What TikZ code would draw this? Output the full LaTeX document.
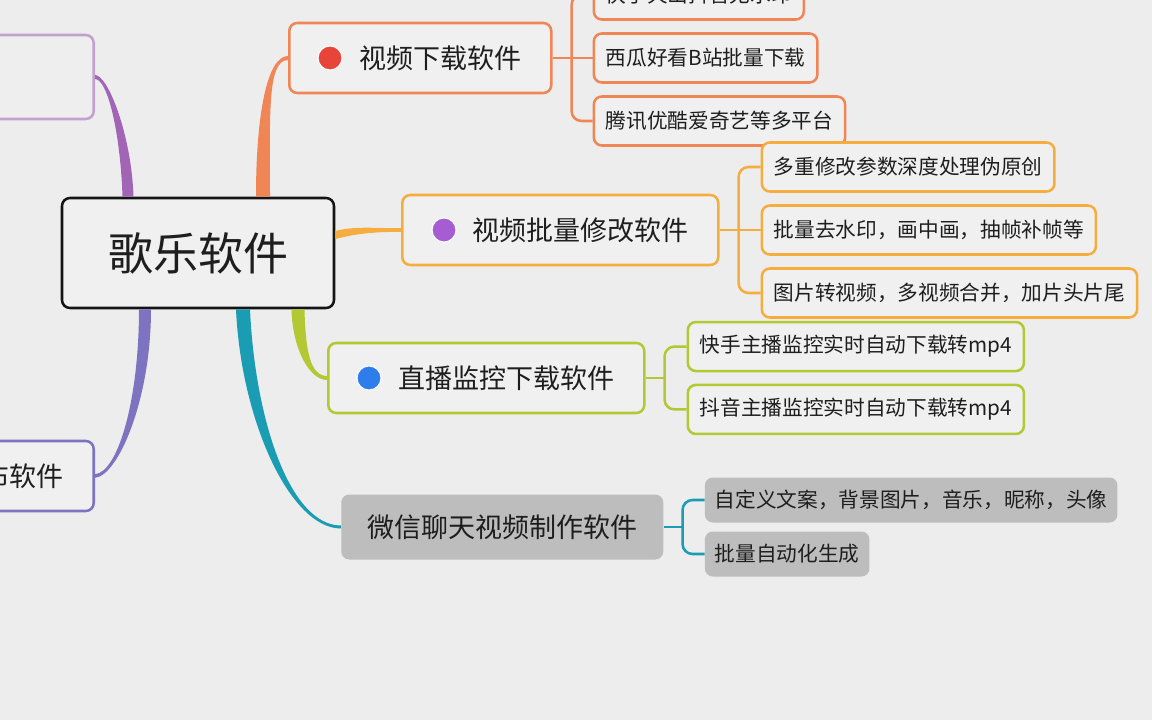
\documentclass[tikz,border=0pt]{standalone}
\usepackage{fontspec}
\newfontfamily\cjk{Noto Sans CJK SC}
\usetikzlibrary{calc,positioning}
\definecolor{bg}{HTML}{EDEDED}
\definecolor{nodebg}{HTML}{F0F0F0}
\definecolor{txt}{HTML}{1E1E1E}
\definecolor{grayfill}{HTML}{BDBDBD}
\definecolor{c1}{HTML}{F08556}
\definecolor{c2}{HTML}{F5AD3E}
\definecolor{c3}{HTML}{B4C833}
\definecolor{c4}{HTML}{1A9DB3}
\definecolor{c5}{HTML}{A264B5}
\definecolor{c6}{HTML}{7E73C0}
\definecolor{dred}{HTML}{E8443A}
\definecolor{dpurple}{HTML}{A65DD2}
\definecolor{dblue}{HTML}{2E7DEA}
\newcommand{\branch}[7]{\fill[#1] ($#2+#6$) .. controls ($#3+#6$) and ($#4+#7$) .. ($#5+#7$) -- ($#5-#7$) .. controls ($#4-#7$) and ($#3-#6$) .. ($#2-#6$) -- cycle;}

\begin{document}
\begin{tikzpicture}[x=0.75pt,y=-0.75pt,
    rootbox/.style={draw=black!92,line width=1.9pt,rounded corners=6pt,fill=nodebg,minimum width=204pt,minimum height=82.5pt,text=txt,font=\cjk\fontsize{33.75}{40}\selectfont},
    topbox/.style={draw=#1,line width=1.9pt,rounded corners=6pt,fill=nodebg,minimum height=52.5pt,inner xsep=22.5pt,text=txt,font=\cjk\fontsize{20.25}{24}\selectfont},
    graybox/.style={fill=grayfill,rounded corners=6pt,minimum height=48.75pt,inner xsep=19.5pt,text=txt,font=\cjk\fontsize{20.25}{24}\selectfont},
    leafbox/.style={draw=#1,line width=1.9pt,rounded corners=6pt,fill=nodebg,minimum height=36.75pt,inner xsep=9pt,text=txt,font=\cjk\fontsize{15.5}{19}\selectfont},
    grayleaf/.style={fill=grayfill,rounded corners=6pt,minimum height=33.75pt,inner xsep=7.5pt,text=txt,font=\cjk\fontsize{15.5}{19}\selectfont},
    bulletdot/.style={circle,fill=#1,draw=white,line width=0.8pt,minimum size=18pt,inner sep=0pt},
    twig/.style={draw=#1,line width=1.9pt,rounded corners=7.5pt}]
\useasboundingbox (0,0) rectangle (1152,720);
\clip (0,0) rectangle (1152,720);
\fill[bg] (0,0) rectangle (1152,720);
\node[rootbox] (r) at (198,253) {歌乐软件};
\node[topbox=c1,anchor=west] (n1) at (288,58) {\hspace*{30pt}视频下载软件};
\node[topbox=c2,anchor=west] (n2) at (401,230) {\hspace*{30pt}视频批量修改软件};
\node[topbox=c3,anchor=west] (n3) at (327,378) {\hspace*{30pt}直播监控下载软件};
\node[graybox,anchor=west] (n4) at (341,527) {微信聊天视频制作软件};
\node[topbox=c5,anchor=east,opacity=.55,minimum width=150pt,minimum height=63pt] (n5) at (95,77) {};
\node[topbox=c6,anchor=east] (n6) at (95,476) {\hspace*{30pt}视频批量发布软件};
\node[bulletdot=dred] (d1) at ($(n1.west)+(42,0)$) {};
\node[bulletdot=dpurple] (d2) at ($(n2.west)+(43,0)$) {};
\node[bulletdot=dblue] (d3) at ($(n3.west)+(42,0)$) {};
\node[leafbox=c1,right=30pt of n1,yshift=47.25pt] (l11) {快手火山抖音无水印};
\node[leafbox=c1,right=30pt of n1] (l12) {西瓜好看B站批量下载};
\node[leafbox=c1,right=30pt of n1,yshift=-47.25pt] (l13) {腾讯优酷爱奇艺等多平台};
\node[leafbox=c2,right=30.75pt of n2,yshift=47.25pt] (l21) {多重修改参数深度处理伪原创};
\node[leafbox=c2,right=30.75pt of n2] (l22) {批量去水印，画中画，抽帧补帧等};
\node[leafbox=c2,right=30.75pt of n2,yshift=-47.25pt] (l23) {图片转视频，多视频合并，加片头片尾};
\node[leafbox=c3,right=30.75pt of n3,yshift=23.6pt] (l31) {快手主播监控实时自动下载转mp4};
\node[leafbox=c3,right=30.75pt of n3,yshift=-23.6pt] (l32) {抖音主播监控实时自动下载转mp4};
\node[grayleaf,right=30.75pt of n4,yshift=20.25pt] (l41) {自定义文案，背景图片，音乐，昵称，头像};
\node[grayleaf,right=30.75pt of n4,yshift=-20.25pt] (l42) {批量自动化生成};
\coordinate (a1) at ($(r.north)+(65,0)$);
\coordinate (a2) at ($(r.east)+(0,-18)$);
\coordinate (a3) at ($(r.south)+(100,0)$);
\coordinate (a4) at ($(r.south)+(45,0)$);
\coordinate (a5) at ($(r.north)+(-70,0)$);
\coordinate (a6) at ($(r.south)+(-53,0)$);
\branch{c1}{(a1)}{(263,115)}{(267,58)}{(n1.west)}{(7,0)}{(0,2)}
\branch{c2}{(a2)}{(355,230)}{(372,230)}{(n2.west)}{(0,4)}{(0,1.8)}
\branch{c3}{(a3)}{(299,350)}{(310,378)}{(n3.west)}{(-6.5,0)}{(0,2)}
\branch{c4}{(a4)}{(248,420)}{(290,527)}{(n4.west)}{(-7,0)}{(0,1.5)}
\branch{c5}{(a5)}{(126,135)}{(108,77)}{(n5.east)}{(5.5,0)}{(0,-2)}
\branch{c6}{(a6)}{(145,400)}{(118,474)}{(n6.east)}{(6,0)}{(0,1.8)}
\coordinate (s1) at ($(n1.east)+(19,0)$);
\coordinate (s2) at ($(n2.east)+(19,0)$);
\coordinate (s3) at ($(n3.east)+(19,0)$);
\coordinate (s4) at ($(n4.east)+(19,0)$);
\draw[twig=c1] (n1.east) -- (s1);
\draw[twig=c1] (s1) |- (l11.west);
\draw[twig=c1] (s1) -- (l12.west);
\draw[twig=c1] (s1) |- (l13.west);
\draw[twig=c2] (n2.east) -- (s2);
\draw[twig=c2] (s2) |- (l21.west);
\draw[twig=c2] (s2) -- (l22.west);
\draw[twig=c2] (s2) |- (l23.west);
\draw[twig=c3] (n3.east) -- (s3);
\draw[twig=c3] (s3) |- (l31.west);
\draw[twig=c3] (s3) |- (l32.west);
\draw[twig=c4] (n4.east) -- (s4);
\draw[twig=c4] (s4) |- (l41.west);
\draw[twig=c4] (s4) |- (l42.west);
\end{tikzpicture}
\end{document}
